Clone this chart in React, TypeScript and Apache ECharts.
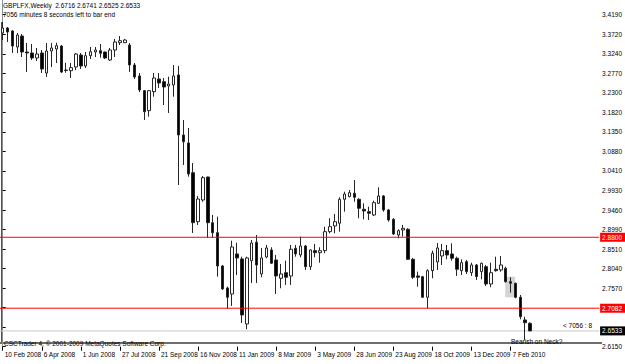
import React, { useEffect, useRef } from "react";
import * as echarts from "echarts";

// Weekly GBPLFX candles (oldest first)
const opens = [
  3.3747, 3.3868, 3.3795, 3.3408, 3.3674, 3.3287, 3.3263, 3.3142, 3.3263, 3.2778,
  3.3311, 3.3359, 3.3432, 3.2851, 3.2834, 3.2924, 3.3214, 3.2948, 3.3197, 3.3287,
  3.3318, 3.3287, 3.3093, 3.3335, 3.3512, 3.3512, 3.3456, 3.2972, 3.2706, 3.2350,
  3.1866, 3.2325, 3.2633, 3.2568, 3.2464, 3.2488, 3.2730, 3.1277, 3.1083, 3.0364,
  2.9178, 2.9703, 3.0260, 2.9153, 2.8912, 2.8105, 2.7572, 2.7427, 2.8396, 2.8275,
  2.6701, 2.8233, 2.8679, 2.7911, 2.8323, 2.8493, 2.8250, 2.7807, 2.7943, 2.7863,
  2.8534, 2.8372, 2.8589, 2.8088, 2.8476, 2.8427, 2.8476, 2.8936, 2.9074, 2.9139,
  2.9720, 2.9783, 2.9866, 2.9720, 2.9478, 2.9420, 2.9340, 2.9623, 2.9800, 2.9461,
  2.9236, 2.8856, 2.8977, 2.8994, 2.8267, 2.7863, 2.7846, 2.7347, 2.7991, 2.8202,
  2.8347, 2.8476, 2.8396, 2.8292, 2.7991, 2.8209, 2.7943, 2.8129, 2.7967, 2.8088,
  2.7669, 2.8025, 2.8008, 2.8049, 2.7725, 2.7686, 2.7347, 2.6798, 2.6716,
];
const closes = [
  3.3868, 3.3771, 3.3432, 3.3698, 3.3287, 3.3263, 3.3142, 3.3238, 3.2875, 3.3311,
  3.3384, 3.3439, 3.2803, 3.2839, 3.2907, 3.3238, 3.2948, 3.3197, 3.3294, 3.3335,
  3.3255, 3.3142, 3.3335, 3.3529, 3.3561, 3.3577, 3.2972, 3.2682, 3.2367, 3.1841,
  3.2350, 3.2657, 3.2536, 3.2439, 3.2512, 3.2706, 3.1277, 3.1115, 3.0333, 2.9153,
  2.9727, 3.0243, 2.9153, 2.8912, 2.8105, 2.7548, 2.7347, 2.8565, 2.8299, 2.6919,
  2.8299, 2.8662, 2.8129, 2.8299, 2.8541, 2.8171, 2.7863, 2.7911, 2.7832, 2.8509,
  2.8396, 2.8589, 2.8088, 2.8493, 2.8427, 2.8476, 2.8936, 2.9057, 2.9178, 2.9720,
  2.9848, 2.9880, 2.9769, 2.9502, 2.9437, 2.9381, 2.9638, 2.9800, 2.9461, 2.9219,
  2.8880, 2.8960, 2.9018, 2.8267, 2.7832, 2.7832, 2.7347, 2.7991, 2.8413, 2.8541,
  2.8476, 2.8372, 2.8292, 2.8025, 2.8185, 2.7967, 2.8129, 2.7846, 2.8171, 2.7669,
  2.7943, 2.7991, 2.8129, 2.7725, 2.7686, 2.7347, 2.6877, 2.6732, 2.6533,
];
const lows = [
  3.3577, 3.3529, 3.3263, 3.3263, 3.3166, 3.2803, 3.3093, 3.3069, 3.2778, 3.2682,
  3.2924, 3.3020, 3.2778, 3.2786, 3.2657, 3.2851, 3.2875, 3.2899, 3.3117, 3.3166,
  3.3149, 3.3117, 3.3069, 3.3166, 3.3456, 3.3505, 3.2803, 3.2633, 3.2318, 3.1640,
  3.1720, 3.2204, 3.2415, 3.2003, 3.1810, 3.2204, 3.0066, 3.0551, 3.0267, 2.8904,
  2.9098, 2.9662, 2.8783, 2.8783, 2.7846, 2.7524, 2.7064, 2.7137, 2.7887, 2.6725,
  2.6573, 2.7694, 2.7694, 2.7832, 2.8292, 2.8154, 2.7427, 2.7565, 2.7645, 2.7645,
  2.8330, 2.8316, 2.8008, 2.8008, 2.8316, 2.8185, 2.8413, 2.8897, 2.8897, 2.8936,
  2.9420, 2.9769, 2.9662, 2.9260, 2.9236, 2.9219, 2.9316, 2.9606, 2.9420, 2.9178,
  2.8856, 2.8776, 2.8815, 2.8250, 2.7790, 2.7604, 2.7330, 2.7081, 2.7807, 2.8008,
  2.8129, 2.8267, 2.8233, 2.7863, 2.7887, 2.7911, 2.7863, 2.7766, 2.7783, 2.7621,
  2.7589, 2.7967, 2.7967, 2.7701, 2.7459, 2.7323, 2.6814, 2.6313, 2.6525,
];
const highs = [
  3.4013, 3.3892, 3.3819, 3.3747, 3.3723, 3.3505, 3.3481, 3.3384, 3.3335, 3.3505,
  3.3505, 3.3512, 3.3456, 3.3028, 3.3020, 3.3263, 3.3263, 3.3287, 3.3408, 3.3408,
  3.3481, 3.3294, 3.3384, 3.3602, 3.3674, 3.3602, 3.3505, 3.3020, 3.2778, 3.2367,
  3.2367, 3.2778, 3.2778, 3.2657, 3.2689, 3.2972, 3.2948, 3.1640, 3.1447, 3.0599,
  2.9800, 3.0284, 3.0267, 2.9340, 2.9299, 2.8129, 2.7604, 2.8718, 2.8669, 2.8330,
  2.8330, 2.8735, 2.8856, 2.8541, 2.8614, 2.8558, 2.8372, 2.8154, 2.8233, 2.8614,
  2.8614, 2.8815, 2.8614, 2.8509, 2.8638, 2.8558, 2.9057, 2.9260, 2.9364, 2.9769,
  2.9904, 2.9945, 3.0188, 2.9744, 2.9623, 2.9541, 2.9686, 3.0011, 2.9824, 2.9478,
  2.9260, 2.8994, 2.9098, 2.9018, 2.8299, 2.7967, 2.7863, 2.8025, 2.8476, 2.8662,
  2.8638, 2.8614, 2.8655, 2.8330, 2.8267, 2.8250, 2.8185, 2.8154, 2.8185, 2.8129,
  2.8185, 2.8330, 2.8347, 2.8088, 2.7832, 2.7701, 2.7403, 2.6877, 2.6741,
];

// Time axis labels (bar index of each label) and price scale labels
const dateLabels = [
  "10 Feb 2008", "6 Apr 2008", "1 Jun 2008", "27 Jul 2008", "21 Sep 2008",
  "16 Nov 2008", "11 Jan 2009", "8 Mar 2009", "3 May 2009", "28 Jun 2009",
  "23 Aug 2009", "18 Oct 2009", "13 Dec 2009", "7 Feb 2010",
];
const dateLabelBars = [0, 8, 16, 24, 32, 40, 48, 56, 64, 72, 80, 88, 96, 104];
const priceTickValues = [
  3.419, 3.372, 3.324, 3.277, 3.23, 3.182, 3.135, 3.088, 3.041, 2.993, 2.946,
  2.899, 2.851, 2.804, 2.757, 2.71, 2.662, 2.615,
];
// labels hidden behind the level boxes in the reference are left out
const priceTickLabels = [
  "3.4190", "3.3720", "3.3240", "3.2770", "3.2300", "3.1820", "3.1350", "3.0880",
  "3.0410", "2.9930", "2.9460", "2.8990", "2.8510", "2.8040", "2.7570", "2.6150",
];

// Horizontal levels and annotation
const resistanceLevel = 2.88;
const supportLevel = 2.7082;
const bidPrice = 2.6533;
const highlightBars = [102.9, 104.9];
const highlightPrices = [2.7846, 2.7347];

// visible bar range of the time axis (bars to the right are the chart shift)
const firstBar = -0.55;
const lastBar = 122.13;

const headerLine1 = "GBPLFX,Weekly  2.6716 2.6741 2.6525 2.6533";
const headerLine2 = "7056 minutes 8 seconds left to bar end";
const countdownText = "< 7056 : 8";
const noteText = "Bearish on Neck?";
const copyrightText = "CSCTrader 4, \u00a9 2001-2009 MetaQuotes Software Corp.";

const FONT = "'Liberation Sans', Arial, sans-serif";
const FS = 6.5;

export default function App() {
  const ref = useRef<HTMLDivElement>(null);

  useEffect(() => {
    if (!ref.current) return;
    const chart = echarts.init(ref.current, null, { renderer: "svg" });
    const data = opens.map((o, i) => [i, o, closes[i], lows[i], highs[i]]);
    const labelVals = priceTickLabels.map(Number);

    const levelSeries = (value: number, lineColor: string, boxColor: string, z: number) => ({
      type: "line",
      z,
      silent: true,
      symbol: "none",
      showSymbol: false,
      clip: false,
      data: [
        [firstBar, value],
        [lastBar, value],
      ],
      lineStyle: { color: lineColor, width: 1, type: "solid" },
      itemStyle: { color: lineColor },
      endLabel: {
        show: true,
        distance: 1,
        formatter: value.toFixed(4),
        color: "#ffffff",
        backgroundColor: boxColor,
        padding: [1, 3, 1, 2],
        fontSize: FS,
        fontFamily: FONT,
      },
    });

    const option: any = {
      animation: false,
      backgroundColor: "#ffffff",
      grid: { left: 0, right: 23, top: 0, bottom: 17.3, containLabel: false },
      xAxis: {
        type: "value",
        min: firstBar,
        max: lastBar,
        axisLine: { show: false },
        splitLine: { show: false },
        axisTick: {
          show: true,
          customValues: dateLabelBars,
          length: 4,
          lineStyle: { color: "#000000", width: 1 },
        },
        axisLabel: {
          customValues: dateLabelBars,
          formatter: (v: number) => {
            const k = dateLabelBars.indexOf(Math.round(v));
            return k >= 0 ? dateLabels[k] : "";
          },
          align: "left",
          margin: 4,
          padding: [0, 0, 0, 2],
          fontSize: FS,
          color: "#000000",
          fontFamily: FONT,
        },
      },
      yAxis: {
        type: "value",
        position: "right",
        min: 2.615,
        max: 3.4546,
        axisLine: { show: true, lineStyle: { color: "#909090", width: 1 } },
        axisTick: {
          show: true,
          customValues: priceTickValues,
          length: 3,
          lineStyle: { color: "#000000", width: 1 },
        },
        axisLabel: {
          customValues: labelVals,
          formatter: (v: number) => v.toFixed(4),
          margin: 3,
          fontSize: FS,
          color: "#000000",
          fontFamily: FONT,
        },
        splitLine: { show: false },
      },
      series: [
        {
          type: "line",
          data: [],
          z: 1,
          silent: true,
          markArea: {
            silent: true,
            itemStyle: { color: "#d4d4d4", opacity: 1 },
            data: [
              [
                { xAxis: highlightBars[0], yAxis: highlightPrices[0] },
                { xAxis: highlightBars[1], yAxis: highlightPrices[1] },
              ],
            ],
          },
        },
        levelSeries(bidPrice, "#c8c8c8", "#000000", 2),
        {
          type: "candlestick",
          z: 3,
          data,
          encode: { x: 0, y: [1, 2, 3, 4] },
          barWidth: 3,
          clip: false,
          itemStyle: {
            color: "#ffffff",
            color0: "#000000",
            borderColor: "#262626",
            borderColor0: "#262626",
            borderWidth: 1,
          },
        },
        levelSeries(resistanceLevel, "#ff0000", "#ff0000", 4),
        levelSeries(supportLevel, "#ff0000", "#ff0000", 4),
      ],
      graphic: [
        {
          type: "line",
          shape: { x1: 1.5, y1: 22, x2: 1.5, y2: 342 },
          style: { stroke: "#505050", lineWidth: 1 },
        },
        {
          type: "rect",
          shape: { x: 0, y: 342, width: 602, height: 2 },
          style: { fill: "#6e6e6e" },
        },
        {
          type: "text",
          x: 3,
          y: 5,
          style: { text: headerLine1, fill: "#000", font: `${FS}px ${FONT}`, verticalAlign: "middle" },
        },
        {
          type: "text",
          x: 3,
          y: 14,
          style: { text: headerLine2, fill: "#000", font: `${FS}px ${FONT}`, verticalAlign: "middle" },
        },
        {
          type: "text",
          x: 4,
          y: 343,
          style: { text: copyrightText, fill: "#000", font: `${FS}px ${FONT}`, verticalAlign: "middle" },
        },
        {
          type: "text",
          x: 511,
          y: 341,
          style: { text: noteText, fill: "#000", font: `${FS}px ${FONT}`, verticalAlign: "middle" },
        },
        {
          type: "text",
          x: 563,
          y: 325,
          style: { text: countdownText, fill: "#000", font: `${FS}px ${FONT}`, verticalAlign: "middle" },
        },
      ],
    };

    chart.setOption(option);
    return () => chart.dispose();
  }, []);

  return (
    <div
      ref={ref}
      style={{ position: "fixed", left: 0, top: 0, width: 625, height: 364 }}
    />
  );
}
